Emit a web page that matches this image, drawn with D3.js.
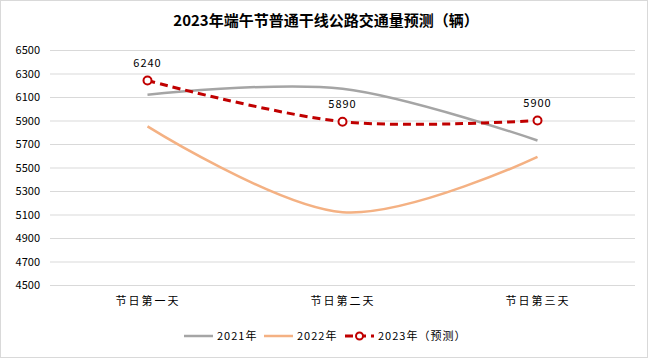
<!DOCTYPE html>
<html><head><meta charset="utf-8">
<script src="https://cdn.jsdelivr.net/npm/d3@7"></script>
<style>body{margin:0;background:#fff}svg{display:block}</style>
</head><body>
<svg id="c" width="652" height="359"></svg>
<script>
const categories = ["节日第一天", "节日第二天", "节日第三天"];
const values2021 = [6120, 6170, 5730];
const values2022 = [5850, 5120, 5590];
const values2023 = [6240, 5890, 5900];
const seriesNames = ["2021年", "2022年", "2023年（预测）"];
const yTicks = [4500, 4700, 4900, 5100, 5300, 5500, 5700, 5900, 6100, 6300, 6500];
const title = "2023年端午节普通干线公路交通量预测（辆）";

const svg = d3.select("#c");
const font = "'Noto Sans CJK SC', 'Noto Sans', sans-serif";
svg.append("rect").attr("x", 0.5).attr("y", 0.5).attr("width", 647).attr("height", 357)
  .attr("fill", "#fff").attr("stroke", "#d9d9d9");

const L = 50, R = 635, T = 50, B = 285;
const x = d3.scalePoint().domain(categories).range([L, R]).padding(0.5);
const y = d3.scaleLinear().domain([4500, 6500]).range([B, T]);

svg.append("text").attr("x", 326).attr("y", 26).attr("text-anchor", "middle")
  .attr("font-family", font).attr("font-weight", "bold").attr("font-size", 15).attr("fill", "#000")
  .text(title);

const yAxis = svg.append("g").attr("transform", `translate(${L},0)`)
  .call(d3.axisLeft(y).tickValues(yTicks).tickSize(-(R - L)).tickPadding(10).tickFormat(d3.format("d")));
yAxis.select(".domain").remove();
yAxis.selectAll("line").attr("stroke", "#d9d9d9");
yAxis.selectAll("text").attr("font-family", font).attr("font-size", 11).attr("fill", "#000");

const xAxis = svg.append("g").attr("transform", `translate(0,${B})`)
  .call(d3.axisBottom(x).tickSize(0).tickPadding(12));
xAxis.select(".domain").remove();
xAxis.selectAll("text").attr("font-family", font).attr("font-size", 11).attr("fill", "#000")
  .attr("letter-spacing", "2px");

const line = d3.line().x((d, i) => x(categories[i])).y(d => y(d)).curve(d3.curveCardinal.tension(0));

svg.append("path").datum(values2021).attr("d", line).attr("fill", "none")
  .attr("stroke", "#a5a5a5").attr("stroke-width", 2.5);
svg.append("path").datum(values2022).attr("d", line).attr("fill", "none")
  .attr("stroke", "#f4b183").attr("stroke-width", 2.5);
svg.append("path").datum(values2023).attr("d", line).attr("fill", "none")
  .attr("stroke", "#c00000").attr("stroke-width", 3).attr("stroke-dasharray", "8,5");

svg.selectAll(".m").data(values2023).enter().append("circle")
  .attr("cx", (d, i) => x(categories[i])).attr("cy", d => y(d)).attr("r", 4)
  .attr("fill", "#fff").attr("stroke", "#c00000").attr("stroke-width", 2);

svg.selectAll(".lbl").data(values2023).enter().append("text")
  .attr("x", (d, i) => x(categories[i])).attr("y", d => y(d) - 14)
  .attr("text-anchor", "middle").attr("font-family", font).attr("font-size", 11)
  .attr("letter-spacing", "1px").attr("fill", "#000").text(d => d);

// legend
const lg = svg.append("g").attr("font-family", font).attr("font-size", 11);
const items = [
  {x: 184, color: "#a5a5a5", dash: null, marker: false, w: 2.5},
  {x: 264, color: "#f4b183", dash: null, marker: false, w: 2.5},
  {x: 345, color: "#c00000", dash: "8,5", marker: true, w: 3}
];
items.forEach((it, i) => {
  const ly = 336;
  lg.append("line").attr("x1", it.x).attr("x2", it.x + 29).attr("y1", ly).attr("y2", ly)
    .attr("stroke", it.color).attr("stroke-width", it.w).attr("stroke-dasharray", it.dash);
  if (it.marker) lg.append("circle").attr("cx", it.x + 14.5).attr("cy", ly).attr("r", 3.5)
    .attr("fill", "#fff").attr("stroke", it.color).attr("stroke-width", 2);
  lg.append("text").attr("x", it.x + 33).attr("y", ly + 4).attr("fill", "#000")
    .attr("letter-spacing", "1px").text(seriesNames[i]);
});
</script>
</body></html>
